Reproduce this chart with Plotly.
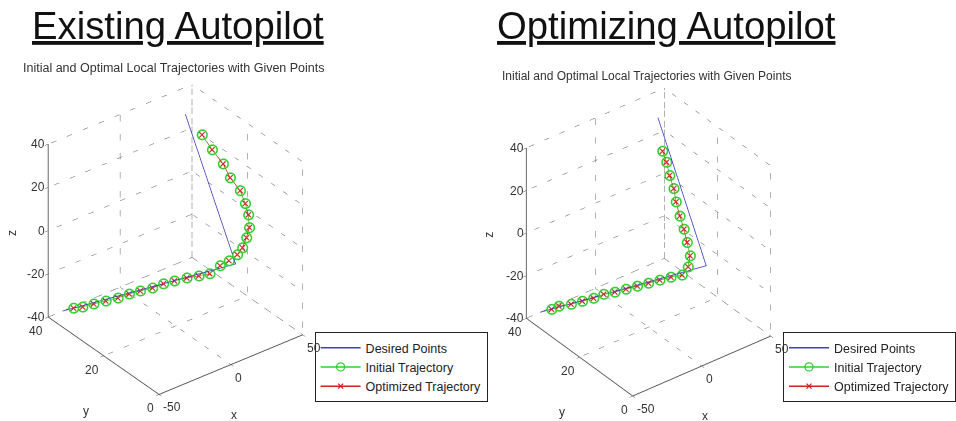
import plotly.graph_objects as go

# ---------------- data ----------------
x_ticks = [-50, 0, 50]
y_ticks = [0, 20, 40]
z_ticks = [-40, -20, 0, 20, 40]
x_range = [-50, 50]
y_range = [0, 40]
z_range = [-40, 40]

desired_x = [-40, 38, 30]
desired_y = [40, 18, 32]
desired_z = [-40, -20, 39]

# Existing autopilot (left)
left_init_x = [-35.1, -31.1, -26.1, -20.7, -15.2, -10.1, -5.1, 0.3, 5.4, 10.4, 15.9, 21.2, 26.1,
               31.2, 35.5, 39.5, 42.3, 44.9, 47.1, 47.8, 47.5, 46.5, 43.4, 41.6, 38.2, 35.2]
left_init_y = [38.6, 37.4, 36.0, 34.4, 32.9, 31.5, 30.1, 28.5, 27.2, 25.8, 24.2, 22.6, 21.2,
               20.1, 19.1, 18.2, 17.8, 17.7, 17.8, 18.5, 19.5, 20.8, 22.8, 24.4, 26.6, 28.7]
left_init_z = [-38.7, -38.2, -36.9, -35.6, -34.4, -32.7, -31.4, -30.1, -28.4, -27.2, -25.9, -25.0, -24.1,
               -20.8, -18.8, -16.3, -13.5, -9.5, -5.5, -0.4, 4.0, 9.1, 14.1, 19.6, 25.1, 31.0]
left_opt_x = list(left_init_x)
left_opt_y = list(left_init_y)
left_opt_z = list(left_init_z)

# Optimizing autopilot (right)
right_init_x = [-34.6, -31.1, -25.5, -20.3, -15.0, -10.2, -5.0, 0.2, 5.5, 10.7, 16.0, 21.2,
                26.4, 29.8, 31.7, 31.6, 31.4, 30.8, 30.3, 30.6, 29.9, 29.8, 29.0]
right_init_y = [38.5, 37.6, 35.9, 34.4, 32.9, 31.6, 30.1, 28.6, 27.1, 25.6, 24.1, 22.6,
                21.1, 20.6, 20.8, 21.9, 23.0, 24.2, 25.4, 26.4, 27.6, 28.7, 29.8]
right_init_z = [-38.7, -37.4, -36.5, -35.2, -33.9, -32.2, -31.3, -30.0, -28.7, -27.4, -26.1, -24.8,
                -23.9, -20.6, -16.1, -10.8, -5.5, -0.3, 5.4, 10.7, 15.9, 21.2, 25.6]
right_opt_x = list(right_init_x)
right_opt_y = list(right_init_y)
right_opt_z = list(right_init_z)

legend_names = ["Desired Points", "Initial Trajectory", "Optimized Trajectory"]

FONT = "Liberation Sans, Arial, sans-serif"
BLUE = "#4040bc"
GREEN = "#2fd02f"
RED = "#d42020"
GRID = "#666666"
TXT = "#333333"

fig = go.Figure()


def grid_lines():
    gx, gy, gz = [], [], []
    x0, x1 = x_range
    y0, y1 = y_range
    z0, z1 = z_range

    def seg(a, b):
        gx.extend([a[0], b[0], None])
        gy.extend([a[1], b[1], None])
        gz.extend([a[2], b[2], None])

    for xt in x_ticks:
        seg((xt, y0, z0), (xt, y1, z0))
        seg((xt, y1, z0), (xt, y1, z1))
    for yt in y_ticks:
        seg((x0, yt, z0), (x1, yt, z0))
        seg((x1, yt, z0), (x1, yt, z1))
    for zt in z_ticks:
        seg((x0, y1, zt), (x1, y1, zt))
        seg((x1, y0, zt), (x1, y1, zt))
    return gx, gy, gz


def add_panel(scene, legend, ix, iy, iz, ox, oy, oz):
    gx, gy, gz = grid_lines()
    fig.add_trace(go.Scatter3d(x=gx, y=gy, z=gz, mode="lines", scene=scene,
                               line=dict(color=GRID, width=1, dash="dot"),
                               hoverinfo="skip", showlegend=False, connectgaps=False))
    fig.add_trace(go.Scatter3d(x=desired_x, y=desired_y, z=desired_z, mode="lines",
                               name=legend_names[0], scene=scene, showlegend=False,
                               line=dict(color=BLUE, width=1.6)))
    fig.add_trace(go.Scatter3d(x=ix, y=iy, z=iz, mode="lines+markers",
                               name=legend_names[1], scene=scene, showlegend=False,
                               line=dict(color=GREEN, width=1.6),
                               marker=dict(symbol="circle-open", size=6, color=GREEN,
                                           line=dict(color=GREEN, width=1.2))))
    fig.add_trace(go.Scatter3d(x=ox, y=oy, z=oz, mode="lines+markers",
                               name=legend_names[2], scene=scene, showlegend=False,
                               line=dict(color=RED, width=1.3),
                               marker=dict(symbol="x", size=1.3, color=RED)))
    # legend entries (2-D proxies so the legend glyphs match the line/marker styles)
    fig.add_trace(go.Scatter(x=[None], y=[None], mode="lines", name=legend_names[0],
                             legend=legend, line=dict(color=BLUE, width=1.5)))
    fig.add_trace(go.Scatter(x=[None], y=[None], mode="lines+markers", name=legend_names[1],
                             legend=legend, line=dict(color=GREEN, width=1.5),
                             marker=dict(symbol="circle-open", size=8, color=GREEN,
                                         line=dict(width=1.3))))
    fig.add_trace(go.Scatter(x=[None], y=[None], mode="lines+markers", name=legend_names[2],
                             legend=legend, line=dict(color=RED, width=1.5),
                             marker=dict(symbol="x-thin", size=5, color=RED,
                                         line=dict(color=RED, width=1.3))))


add_panel("scene", "legend", left_init_x, left_init_y, left_init_z,
          left_opt_x, left_opt_y, left_opt_z)
add_panel("scene2", "legend2", right_init_x, right_init_y, right_init_z,
          right_opt_x, right_opt_y, right_opt_z)


def axis(rng, ticks):
    return dict(title=dict(text=""), range=rng, tickvals=ticks, showticklabels=False,
                showgrid=False, zeroline=False, showbackground=False, showspikes=False,
                showline=True, linecolor="#555", linewidth=2,
                ticks="inside", ticklen=4, tickcolor="#555")


def scene_annotations():
    ann = []
    f = dict(family=FONT, size=12, color=TXT)
    for zt in z_ticks:
        ann.append(dict(x=x_range[0], y=y_range[1], z=zt, text=str(zt), showarrow=False,
                        xanchor="right", yanchor="middle", xshift=-1, font=f))
    for yt in y_ticks:
        ann.append(dict(x=x_range[0], y=yt, z=z_range[0], text=str(yt), showarrow=False,
                        xanchor="right", yanchor="top", xshift=-3, yshift=-5, font=f))
    for xt in x_ticks:
        ann.append(dict(x=xt, y=y_range[0], z=z_range[0], text=str(xt), showarrow=False,
                        xanchor="left", yanchor="top", xshift=2, yshift=-4, font=f))
    xm = (x_range[0] + x_range[1]) / 2
    ym = (y_range[0] + y_range[1]) / 2
    zm = (z_range[0] + z_range[1]) / 2
    ann.append(dict(x=xm, y=y_range[0], z=z_range[0], text="x", showarrow=False,
                    xshift=3, yshift=-50, font=f))
    ann.append(dict(x=x_range[0], y=ym, z=z_range[0], text="y", showarrow=False,
                    xshift=-18, yshift=-55, font=f))
    ann.append(dict(x=x_range[0], y=y_range[1], z=zm, text="z", showarrow=False,
                    xshift=-37, yshift=-2, textangle=-90, font=f))
    return ann


def scene_layout(dom_x, dom_y, zdir, asp):
    d = (-0.771, -1.0, zdir)
    n = (d[0] ** 2 + d[1] ** 2 + d[2] ** 2) ** 0.5
    dist = 2.0
    return dict(domain=dict(x=dom_x, y=dom_y),
                xaxis=axis(x_range, x_ticks),
                yaxis=axis(y_range, y_ticks),
                zaxis=axis(z_range, z_ticks),
                aspectmode="manual", aspectratio=dict(x=asp[0], y=asp[1], z=asp[2]),
                camera=dict(eye=dict(x=d[0] / n * dist, y=d[1] / n * dist, z=d[2] / n * dist),
                            center=dict(x=0, y=0, z=0), up=dict(x=0, y=0, z=1),
                            projection=dict(type="orthographic")),
                annotations=scene_annotations())


legend_style = dict(bgcolor="white", bordercolor="#222", borderwidth=1,
                    font=dict(family=FONT, size=12.5, color="#222"),
                    xanchor="left", yanchor="top", itemwidth=40, tracegroupgap=0)

fig.update_layout(
    width=956, height=421, autosize=False, margin=dict(l=0, r=0, t=0, b=0),
    paper_bgcolor="white", plot_bgcolor="white",
    xaxis=dict(visible=False), yaxis=dict(visible=False),
    scene=scene_layout([0.0, 0.3745], [0.0, 0.862], 0.807, (1, 1, 1.13)),
    scene2=scene_layout([0.505, 0.8795], [0.0, 0.85], 0.861, (0.973, 0.973, 1.152)),
    legend=dict(x=321 / 956, y=1 - 332 / 421, **legend_style),
    legend2=dict(x=799 / 956, y=1 - 332 / 421, **legend_style),
    annotations=[
        dict(text="Existing Autopilot", x=181.5 / 956, y=1 - 26 / 421, xref="paper", yref="paper",
             showarrow=False, xanchor="center", yanchor="middle",
             font=dict(family=FONT, size=38.3, color="#111", lineposition="under")),
        dict(text="Optimizing Autopilot", x=680.5 / 956, y=1 - 26 / 421, xref="paper", yref="paper",
             showarrow=False, xanchor="center", yanchor="middle",
             font=dict(family=FONT, size=38.3, color="#111", lineposition="under")),
        dict(text="Initial and Optimal Local Trajectories with Given Points",
             x=177.5 / 956, y=1 - 68 / 421, xref="paper", yref="paper",
             showarrow=False, xanchor="center", yanchor="middle",
             font=dict(family=FONT, size=12.5, color=TXT)),
        dict(text="Initial and Optimal Local Trajectories with Given Points",
             x=660 / 956, y=1 - 76 / 421, xref="paper", yref="paper",
             showarrow=False, xanchor="center", yanchor="middle",
             font=dict(family=FONT, size=12, color=TXT)),
    ],
)

fig.write_html("out.html", config={"displayModeBar": False, "responsive": False})
